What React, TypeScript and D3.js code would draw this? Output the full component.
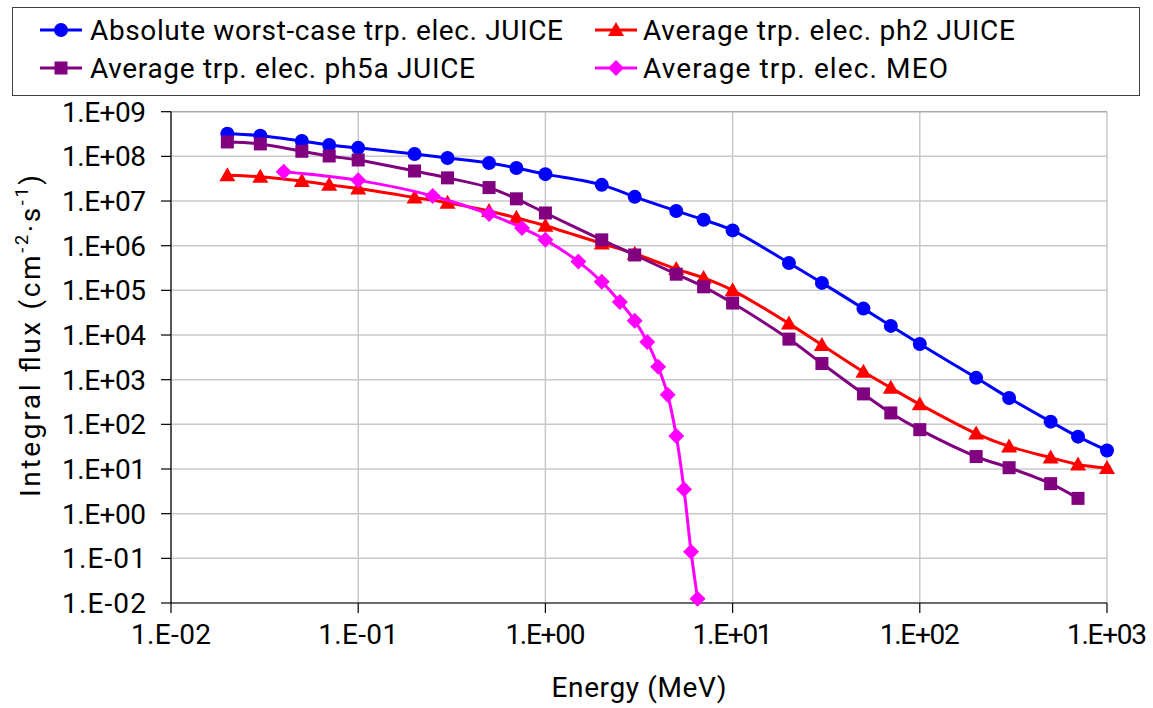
import React from "react";
import * as d3 from "d3";

const energyJuice = [0.02, 0.03, 0.05, 0.07, 0.1, 0.2, 0.3, 0.5, 0.7, 1, 2, 3, 5, 7, 10, 20, 30, 50, 70, 100, 200, 300, 500, 700, 1000];
const worstCase = [3.2e8, 2.9e8, 2.2e8, 1.8e8, 1.55e8, 1.13e8, 9.2e7, 7.1e7, 5.5e7, 4.0e7, 2.3e7, 1.24e7, 6.0e6, 3.8e6, 2.2e6, 4.1e5, 1.47e5, 3.9e4, 1.6e4, 6.3e3, 1.1e3, 3.9e2, 1.15e2, 53, 26];
const ph2 = [3.8e7, 3.5e7, 2.8e7, 2.3e7, 1.9e7, 1.2e7, 9.1e6, 6.0e6, 4.2e6, 2.8e6, 1.12e6, 6.6e5, 3.0e5, 1.9e5, 1.0e5, 1.8e4, 6.0e3, 1.5e3, 6.6e2, 2.8e2, 62, 32, 18, 12.6, 10.5];
const energyPh5a = [0.02, 0.03, 0.05, 0.07, 0.1, 0.2, 0.3, 0.5, 0.7, 1, 2, 3, 5, 7, 10, 20, 30, 50, 70, 100, 200, 300, 500, 700];
const ph5a = [2.1e8, 1.9e8, 1.3e8, 1.02e8, 8.3e7, 4.7e7, 3.3e7, 2.0e7, 1.12e7, 5.4e6, 1.35e6, 6.2e5, 2.3e5, 1.2e5, 5.2e4, 8.1e3, 2.3e3, 4.8e2, 1.8e2, 76, 19, 10.7, 4.7, 2.2];
const energyMeo = [0.04, 0.1, 0.25, 0.5, 0.75, 1, 1.5, 2, 2.5, 3, 3.5, 4, 4.5, 5, 5.5, 6, 6.5];
const meo = [4.5e7, 2.9e7, 1.3e7, 5.1e6, 2.5e6, 1.35e6, 4.4e5, 1.55e5, 5.5e4, 2.1e4, 7.0e3, 1.95e3, 4.6e2, 55, 3.5, 0.14, 0.0125];

const xTicks = [1e-2, 1e-1, 1, 10, 100, 1000];
const xTickLabels = ["1.E-02", "1.E-01", "1.E+00", "1.E+01", "1.E+02", "1.E+03"];
const yTicks = [1e9, 1e8, 1e7, 1e6, 1e5, 1e4, 1e3, 1e2, 1e1, 1, 1e-1, 1e-2];
const yTickLabels = ["1.E+09", "1.E+08", "1.E+07", "1.E+06", "1.E+05", "1.E+04", "1.E+03", "1.E+02", "1.E+01", "1.E+00", "1.E-01", "1.E-02"];

const seriesNames = [
  "Absolute worst-case trp. elec. JUICE",
  "Average trp. elec. ph2 JUICE",
  "Average trp. elec. ph5a JUICE",
  "Average trp. elec. MEO",
];

const FONT = "Roboto, 'Open Sans', sans-serif";

type Shape = "circle" | "triangle" | "square" | "diamond";

function Marker({ shape, x, y, color }: { shape: Shape; x: number; y: number; color: string }) {
  if (shape === "circle") return <circle cx={x} cy={y} r={7} fill={color} />;
  if (shape === "square") return <rect x={x - 6.5} y={y - 6.5} width={13} height={13} fill={color} />;
  if (shape === "triangle")
    return <path d={`M${x},${y - 8} L${x + 8},${y + 6} L${x - 8},${y + 6} Z`} fill={color} />;
  return <path d={`M${x},${y - 8} L${x + 8},${y} L${x},${y + 8} L${x - 8},${y} Z`} fill={color} />;
}

export default function App() {
  const W = 1153;
  const H = 708;
  const left = 171;
  const right = 1107;
  const top = 111.7;
  const bottom = 603;

  const x = d3.scaleLog().domain([1e-2, 1e3]).range([left, right]);
  const y = d3.scaleLog().domain([1e-2, 1e9]).range([bottom, top]);

  const series = [
    { name: seriesNames[0], xs: energyJuice, ys: worstCase, color: "#0000FF", shape: "circle" as Shape },
    { name: seriesNames[1], xs: energyJuice, ys: ph2, color: "#FF0000", shape: "triangle" as Shape },
    { name: seriesNames[2], xs: energyPh5a, ys: ph5a, color: "#800080", shape: "square" as Shape },
    { name: seriesNames[3], xs: energyMeo, ys: meo, color: "#FF00FF", shape: "diamond" as Shape },
  ];

  const line = d3
    .line<[number, number]>()
    .x((d) => x(d[0]))
    .y((d) => y(d[1]))
    .curve(d3.curveCatmullRom.alpha(0.5));

  const legendPos = [
    { lx: 40, ly: 30, tx: 90, tl: 473 },
    { lx: 595, ly: 30, tx: 643, tl: 372 },
    { lx: 40, ly: 68, tx: 90, tl: 385 },
    { lx: 595, ly: 68, tx: 643, tl: 305 },
  ];

  return (
    <svg
      width={W}
      height={H}
      style={{ position: "absolute", left: 0, top: 0, background: "#fff" }}
      fontFamily={FONT}
    >
      <rect x={0} y={0} width={W} height={H} fill="#fff" />
      {/* gridlines */}
      {yTicks.map((t, i) => (
        <line key={"gy" + i} x1={left} x2={right} y1={y(t)} y2={y(t)} stroke="#c8c8c8" strokeWidth={1.5} />
      ))}
      {xTicks.map((t, i) => (
        <line key={"gx" + i} x1={x(t)} x2={x(t)} y1={top} y2={bottom} stroke="#c8c8c8" strokeWidth={1.5} />
      ))}
      <line x1={left} x2={right} y1={top} y2={top} stroke="#a0a0a0" strokeWidth={1} />
      {/* axes */}
      <line x1={left} x2={left} y1={top} y2={bottom} stroke="#000" strokeWidth={1.2} />
      <line x1={left} x2={right} y1={bottom} y2={bottom} stroke="#000" strokeWidth={1.2} />
      {yTicks.map((t, i) => (
        <line key={"ty" + i} x1={left - 10} x2={left} y1={y(t)} y2={y(t)} stroke="#000" strokeWidth={1.2} />
      ))}
      {xTicks.map((t, i) => (
        <line key={"tx" + i} x1={x(t)} x2={x(t)} y1={bottom} y2={bottom + 10} stroke="#000" strokeWidth={1.2} />
      ))}
      {yTickLabels.map((l, i) => (
        <text key={"ly" + i} x={146} y={y(yTicks[i]) + 10} fontSize={28} textAnchor="end" fill="#000" textLength={84} lengthAdjust="spacing">
          {l}
        </text>
      ))}
      {xTickLabels.map((l, i) => (
        <text key={"lx" + i} x={x(xTicks[i])} y={644} fontSize={28} textAnchor="middle" fill="#000" textLength={80} lengthAdjust="spacing">
          {l}
        </text>
      ))}
      <text x={(left + right) / 2} y={697} fontSize={28} textAnchor="middle" fill="#000" textLength={175} lengthAdjust="spacing">
        Energy (MeV)
      </text>
      <text
        transform="translate(40,336) rotate(-90)"
        fontSize={28}
        textAnchor="middle"
        fill="#000"
        textLength={322}
        lengthAdjust="spacing"
      >
        Integral flux (cm
        <tspan fontSize={18} dy={-12}>-2</tspan>
        <tspan dy={12}>·s</tspan>
        <tspan fontSize={18} dy={-12}>-1</tspan>
        <tspan dy={12}>)</tspan>
      </text>
      {/* series */}
      {series.map((s, si) => {
        const pts: [number, number][] = s.xs.map((e, i) => [e, s.ys[i]]);
        return (
          <g key={"s" + si}>
            <path d={line(pts) || ""} fill="none" stroke={s.color} strokeWidth={3} />
            {pts.map((p, i) => (
              <Marker key={i} shape={s.shape} x={x(p[0])} y={y(p[1])} color={s.color} />
            ))}
          </g>
        );
      })}
      {/* legend */}
      <rect x={12.5} y={7.5} width={1127} height={88} fill="#fff" stroke="#404040" strokeWidth={1} />
      {series.map((s, i) => {
        const p = legendPos[i];
        return (
          <g key={"lg" + i}>
            <line x1={p.lx} x2={p.lx + 42} y1={p.ly} y2={p.ly} stroke={s.color} strokeWidth={3} />
            <Marker shape={s.shape} x={p.lx + 21} y={p.ly} color={s.color} />
            <text x={p.tx} y={p.ly + 10} fontSize={28} fill="#000" textLength={p.tl} lengthAdjust="spacing">
              {s.name}
            </text>
          </g>
        );
      })}
    </svg>
  );
}
